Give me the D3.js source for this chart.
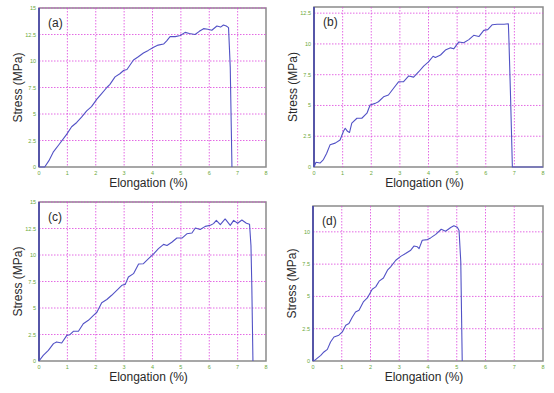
<!DOCTYPE html>
<html>
<head>
<meta charset="utf-8">
<script src="https://cdn.jsdelivr.net/npm/d3@7"></script>
<style>
  html, body { margin: 0; padding: 0; background: #fff; }
  svg { display: block; font-family: "Liberation Sans", Arial, sans-serif; }
</style>
</head>
<body>
<svg id="chart" width="554" height="393"></svg>
<script>
// Stress-strain curves
const elongA = [0, 0.2, 0.35, 0.5, 0.7, 0.98, 1.15, 1.33, 1.5, 1.68, 1.85, 2.04, 2.2, 2.39, 2.5, 2.68, 2.85, 2.98, 3.1, 3.33, 3.5, 3.68, 3.85, 4.04, 4.2, 4.39, 4.5, 4.62, 4.8, 4.98, 5.15, 5.3, 5.5, 5.65, 5.8, 5.95, 6.09, 6.27, 6.4, 6.5, 6.6, 6.68, 6.74, 6.8];
const stressA = [0, 0, 0.6, 1.4, 2.1, 3.1, 3.8, 4.2, 4.7, 5.3, 5.7, 6.4, 6.9, 7.5, 7.8, 8.5, 8.8, 9.1, 9.2, 10.1, 10.4, 10.75, 11.0, 11.3, 11.5, 11.6, 11.9, 12.3, 12.3, 12.4, 12.7, 12.6, 12.5, 12.8, 13.05, 13.0, 12.9, 13.3, 13.2, 13.4, 13.3, 13.15, 9.4, 0];

const elongB = [0, 0.07, 0.21, 0.33, 0.44, 0.56, 0.74, 0.91, 1.03, 1.09, 1.17, 1.24, 1.32, 1.5, 1.67, 1.85, 1.96, 2.14, 2.25, 2.43, 2.6, 2.78, 2.96, 3.13, 3.31, 3.48, 3.66, 3.83, 4.0, 4.16, 4.24, 4.42, 4.59, 4.77, 4.88, 5.06, 5.23, 5.41, 5.58, 5.76, 5.93, 6.07, 6.23, 6.4, 6.64, 6.79, 6.81, 6.87, 6.93, 8];
const stressB = [0, 0.38, 0.32, 0.6, 1.1, 1.8, 1.94, 2.2, 2.9, 3.15, 2.9, 2.8, 3.56, 3.96, 3.96, 4.37, 5.04, 5.17, 5.3, 5.7, 5.85, 6.4, 6.93, 6.93, 7.4, 7.3, 7.74, 8.2, 8.54, 9.0, 8.9, 9.1, 9.5, 9.68, 9.6, 10.16, 10.1, 10.35, 10.7, 10.6, 11.1, 11.16, 11.56, 11.6, 11.6, 11.64, 10.3, 5.4, 0, 0];

const elongC = [0, 0.15, 0.33, 0.51, 0.62, 0.8, 0.98, 1.09, 1.21, 1.39, 1.56, 1.74, 1.92, 2.04, 2.21, 2.39, 2.56, 2.74, 2.92, 3.04, 3.15, 3.33, 3.51, 3.68, 3.86, 4.04, 4.21, 4.39, 4.51, 4.68, 4.86, 5.04, 5.21, 5.39, 5.51, 5.68, 5.86, 6.04, 6.15, 6.25, 6.39, 6.56, 6.74, 6.86, 7.0, 7.15, 7.31, 7.42, 7.47, 7.5, 7.54];
const stressC = [0, 0.53, 1.0, 1.64, 1.8, 1.7, 2.42, 2.48, 2.8, 2.8, 3.52, 3.84, 4.3, 4.6, 5.5, 5.8, 6.2, 6.67, 7.14, 7.23, 7.92, 8.24, 9.15, 9.18, 9.65, 10.1, 10.6, 11.0, 10.9, 11.2, 11.6, 11.6, 12.0, 12.08, 12.55, 12.4, 12.7, 12.8, 12.96, 13.27, 12.86, 13.4, 12.8, 13.27, 13.0, 13.3, 13.0, 12.9, 10.9, 7.1, 0];

const elongD = [0, 0.06, 0.13, 0.27, 0.38, 0.5, 0.61, 0.73, 0.9, 1.02, 1.14, 1.25, 1.37, 1.48, 1.6, 1.75, 1.89, 2.06, 2.18, 2.3, 2.45, 2.59, 2.7, 2.88, 3.05, 3.22, 3.4, 3.51, 3.63, 3.69, 3.8, 3.98, 4.09, 4.27, 4.46, 4.61, 4.79, 4.9, 5.02, 5.08, 5.14, 5.19];
const stressD = [0, 0.05, 0.18, 0.44, 0.7, 0.9, 1.47, 1.86, 2.0, 2.25, 2.76, 2.9, 3.4, 3.8, 3.93, 4.57, 4.88, 5.56, 5.74, 6.18, 6.43, 7.03, 7.29, 7.8, 8.1, 8.32, 8.58, 8.9, 8.84, 8.7, 9.35, 9.4, 9.53, 9.8, 10.2, 10.05, 10.34, 10.47, 10.36, 10.1, 7.7, 0];

const xTicks = [0, 1, 2, 3, 4, 5, 6, 7, 8];
const yTicks15 = [0, 2.5, 5, 7.5, 10, 12.5, 15];
const yTicks13 = [0, 2.5, 5, 7.5, 10, 12.5];
const yTicks12 = [0, 2.5, 5, 7.5, 10];
const panelLabels = ['(a)', '(b)', '(c)', '(d)'];

const panels = [
  { label: panelLabels[0], xs: elongA, ys: stressA, yMax: 15, yTicks: yTicks15, left: 39, right: 266, top: 8, bottom: 167 },
  { label: panelLabels[1], xs: elongB, ys: stressB, yMax: 13, yTicks: yTicks13, left: 314, right: 543, top: 7, bottom: 167 },
  { label: panelLabels[2], xs: elongC, ys: stressC, yMax: 15, yTicks: yTicks15, left: 39, right: 266, top: 202, bottom: 361 },
  { label: panelLabels[3], xs: elongD, ys: stressD, yMax: 12, yTicks: yTicks12, left: 313, right: 543, top: 206, bottom: 361 },
];

const LINE_COLOR = '#5252c6';
const GRID_COLOR = '#dd44dd';
const FRAME_COLOR = '#8a8a8a';
const TICK_COLOR = '#6aa83a';

const svg = d3.select('#chart');

panels.forEach(p => {
  const x = d3.scaleLinear().domain([0, 8]).range([p.left, p.right]);
  const y = d3.scaleLinear().domain([0, p.yMax]).range([p.bottom, p.top]);
  const g = svg.append('g');

  // frame
  g.append('rect')
    .attr('x', p.left).attr('y', p.top)
    .attr('width', p.right - p.left).attr('height', p.bottom - p.top)
    .attr('fill', 'none')
    .attr('stroke', FRAME_COLOR)
    .attr('stroke-width', 1.5);

  // dotted grid
  g.selectAll('line.vgrid')
    .data(xTicks.filter(t => t > 0 && t < 8))
    .join('line')
    .attr('x1', d => x(d)).attr('x2', d => x(d))
    .attr('y1', p.top).attr('y2', p.bottom)
    .attr('stroke', GRID_COLOR)
    .attr('stroke-width', 0.8)
    .attr('stroke-dasharray', '1.5,1.5');

  g.selectAll('line.hgrid')
    .data(p.yTicks.filter(t => t > 0))
    .join('line')
    .attr('x1', p.left).attr('x2', p.right)
    .attr('y1', d => y(d)).attr('y2', d => y(d))
    .attr('stroke', GRID_COLOR)
    .attr('stroke-width', 0.8)
    .attr('stroke-dasharray', '1.5,1.5');

  // left axis drawn in blue
  g.append('line')
    .attr('x1', p.left).attr('x2', p.left)
    .attr('y1', p.top).attr('y2', p.bottom)
    .attr('stroke', '#3b3ba8')
    .attr('stroke-width', 1.5);

  // tick labels
  g.selectAll('text.xt')
    .data(xTicks)
    .join('text')
    .attr('x', d => x(d))
    .attr('y', p.bottom + 8)
    .attr('text-anchor', 'middle')
    .attr('font-size', 5.5)
    .attr('fill', TICK_COLOR)
    .text(d => d);

  g.selectAll('text.yt')
    .data(p.yTicks)
    .join('text')
    .attr('x', p.left - 3)
    .attr('y', d => y(d) + 2)
    .attr('text-anchor', 'end')
    .attr('font-size', 5.5)
    .attr('fill', TICK_COLOR)
    .text(d => d);

  // curve
  const line = d3.line()
    .x((d, i) => x(p.xs[i]))
    .y(d => y(d));
  g.append('path')
    .attr('d', line(p.ys))
    .attr('fill', 'none')
    .attr('stroke', LINE_COLOR)
    .attr('stroke-width', 1.1)
    .attr('stroke-linejoin', 'round');

  // titles
  g.append('text')
    .attr('x', (p.left + p.right) / 2 - 4)
    .attr('y', p.bottom + 20)
    .attr('text-anchor', 'middle')
    .attr('font-size', 12)
    .attr('fill', '#2a2a2a')
    .text('Elongation (%)');

  g.append('text')
    .attr('transform', `translate(${p.left - 17},${(p.top + p.bottom) / 2}) rotate(-90)`)
    .attr('text-anchor', 'middle')
    .attr('font-size', 12)
    .attr('fill', '#2a2a2a')
    .text('Stress (MPa)');

  g.append('text')
    .attr('x', p.left + 9)
    .attr('y', p.top + 19)
    .attr('font-size', 12)
    .attr('fill', '#2a2a2a')
    .text(p.label);
});
</script>
</body>
</html>
